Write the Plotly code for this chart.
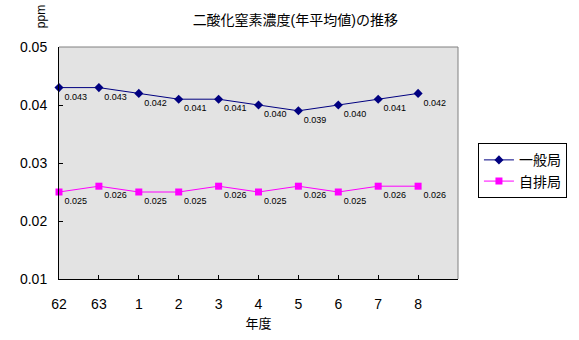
import plotly.graph_objects as go

categories = ["62", "63", "1", "2", "3", "4", "5", "6", "7", "8"]
ippan = [0.043, 0.043, 0.042, 0.041, 0.041, 0.040, 0.039, 0.040, 0.041, 0.042]
jihai = [0.025, 0.026, 0.025, 0.025, 0.026, 0.025, 0.026, 0.025, 0.026, 0.026]
y_ticks = [0.01, 0.02, 0.03, 0.04, 0.05]
y_tick_labels = ["0.01", "0.02", "0.03", "0.04", "0.05"]

FONT = "Liberation Sans, Noto Sans CJK JP, sans-serif"
idx = list(range(len(categories)))

fig = go.Figure()
fig.add_trace(go.Scatter(
    x=idx, y=ippan, name="一般局", mode="lines+markers+text",
    line=dict(color="#000080", width=1),
    marker=dict(symbol="diamond", size=7, color="#000080"),
    text=[f"{v:.3f}" for v in ippan], textposition="bottom right",
    textfont=dict(size=9, color="black", family=FONT),
    cliponaxis=False,
))
fig.add_trace(go.Scatter(
    x=idx, y=jihai, name="自排局", mode="lines+markers+text",
    line=dict(color="#FF00FF", width=1),
    marker=dict(symbol="square", size=7, color="#FF00FF"),
    text=[f"{v:.3f}" for v in jihai], textposition="bottom right",
    textfont=dict(size=9, color="black", family=FONT),
    cliponaxis=False,
))

fig.update_layout(
    width=579, height=340,
    margin=dict(l=59, r=117, t=47, b=61),
    paper_bgcolor="white",
    plot_bgcolor="#E3E3E3",
    font=dict(family=FONT, size=13, color="black"),
    title=dict(text="二酸化窒素濃度(年平均値)の推移", x=0.51, xanchor="center",
               y=1 - 20 / 340, yanchor="middle", font=dict(size=14)),
    showlegend=True,
    legend=dict(x=1.05, y=0.585, xanchor="left", yanchor="top",
                bordercolor="black", borderwidth=1, bgcolor="white",
                font=dict(size=14), itemwidth=30, tracegroupgap=0),
    xaxis=dict(
        range=[0, 10], tickmode="array", tickvals=idx, ticktext=categories,
        showgrid=False, zeroline=False, showline=True, linecolor="black",
        linewidth=1, ticks="inside", ticklen=4, tickcolor="black",
        ticklabelstandoff=12, tickfont=dict(size=14),
        title=dict(text="年度", font=dict(size=13), standoff=8),
        mirror=False,
    ),
    yaxis=dict(
        range=[0.01, 0.05], tickmode="array", tickvals=y_ticks,
        ticktext=y_tick_labels, showgrid=False, zeroline=False,
        showline=True, linecolor="black", linewidth=1, ticks="inside",
        ticklen=4, tickcolor="black", ticklabelstandoff=8,
        tickfont=dict(size=14),
    ),
    shapes=[
        dict(type="line", xref="paper", yref="paper", x0=0, x1=1, y0=1, y1=1,
             line=dict(color="#808080", width=1)),
        dict(type="line", xref="paper", yref="paper", x0=1, x1=1, y0=0, y1=1,
             line=dict(color="#808080", width=1)),
    ],
    annotations=[
        dict(text="ppm", xref="paper", yref="paper", x=-18 / 403,
             y=(279 - 17) / 232, xanchor="center", yanchor="middle",
             textangle=-90, showarrow=False, font=dict(size=12)),
    ],
)

fig.write_html("out.html")
